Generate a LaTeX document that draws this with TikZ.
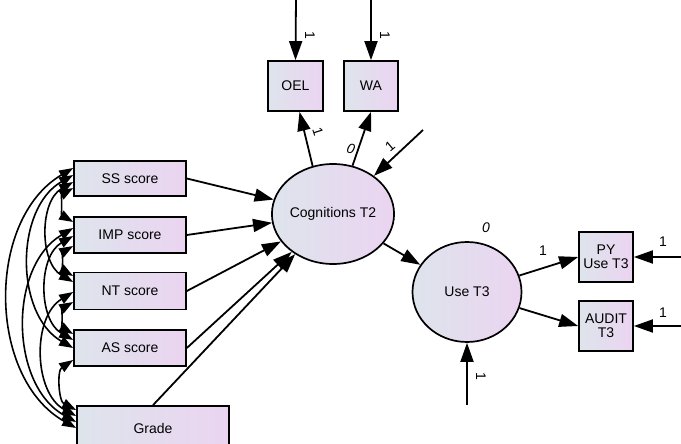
\documentclass[tikz,border=0pt]{standalone}
\usepackage{fontspec}
\setmainfont{Liberation Sans}
\usetikzlibrary{arrows.meta,shapes.geometric}
\definecolor{cA}{RGB}{222,228,236}
\definecolor{cB}{RGB}{235,212,241}
\tikzset{
  obs/.style={draw=black,line width=1.7pt,left color=cA,right color=cB,inner sep=0pt,
    font=\fontsize{14}{14.5}\selectfont,align=center},
  lat/.style={draw=black,line width=1.7pt,ellipse,left color=cA,right color=cB,inner sep=0pt,
    minimum width=109pt,minimum height=100pt,font=\fontsize{14}{15}\selectfont},
  pth/.style={line width=1.8pt,-{Triangle[length=19pt,width=13pt]}},
  covar/.style={line width=1.6pt,{Triangle[length=14pt,width=10pt]}-{Triangle[length=14pt,width=10pt]},bend right=60},
  lbl/.style={font=\fontsize{14}{15}\selectfont,inner sep=0pt},
  ilbl/.style={font=\fontsize{14}{15}\selectfont\itshape,inner sep=0pt}
}
\begin{document}
\begin{tikzpicture}[x=1pt,y=-1pt]
\clip (0,0) rectangle (681,444);
\fill[white] (0,0) rectangle (681,444);
% observed boxes
\node[obs,minimum width=112pt,minimum height=35pt] (ss) at (130,178.5) {SS score};
\node[obs,minimum width=112pt,minimum height=36pt] (imp) at (130,235) {IMP score};
\node[obs,minimum width=112pt,minimum height=37pt] (nt) at (130,291) {NT score};
\node[obs,minimum width=112pt,minimum height=36pt] (as) at (130,348) {AS score};
\node[obs,minimum width=152pt,minimum height=44pt] (grade) at (153,428) {Grade};
\node[obs,minimum width=55pt,minimum height=50pt] (oel) at (295.5,86) {OEL};
\node[obs,minimum width=54pt,minimum height=50pt] (wa) at (371,86) {WA};
\node[obs,minimum width=54pt,minimum height=50pt] (py) at (606,257) {PY\\Use T3};
\node[obs,minimum width=54pt,minimum height=50pt] (aud) at (606,326) {AUDIT\\T3};
% latent
\node[lat] (cog) at (333,214) {Cognitions T2};
\node[lat] (use) at (467,292) {Use T3};
% error ends
\coordinate (eoel) at (296,-2);
\coordinate (ewa) at (371,-2);
\coordinate (ecog) at (423,130);
\coordinate (euse) at (467,405);
\coordinate (epy) at (683,257);
\coordinate (eaud) at (683,326);
% paths
\draw[pth] (ss.east) -- (cog);
\draw[pth] (imp.east) -- (cog);
\draw[pth] (nt.east) -- (cog);
\draw[pth] (as.east) -- (cog);
\draw[pth] (grade.north) -- (cog);
\draw[pth] (cog.113) -- ([xshift=4pt]oel.south);
\draw[pth] (cog.68) -- (wa.south);
\draw[pth] (cog) -- (use);
\draw[pth] (use) -- (py.west);
\draw[pth] (use) -- (aud.west);
\draw[pth] (eoel) -- (oel.north);
\draw[pth] (ewa) -- (wa.north);
\draw[pth] (ecog) -- (cog);
\draw[pth] (euse) -- (use.south);
\draw[pth] (epy) -- (py.east);
\draw[pth] (eaud) -- (aud.east);
% covariances
\draw[covar] (ss.west |- 0,188) to (imp.west |- 0,222);
\draw[covar] (imp.west |- 0,246) to (nt.west |- 0,276);
\draw[covar] (nt.west |- 0,302) to (as.west |- 0,334);
\draw[covar] (as.west |- 0,360) to (grade.west |- 0,410);
\draw[covar] (ss.west |- 0,182) to (nt.west |- 0,282);
\draw[covar] (imp.west |- 0,236) to (as.west |- 0,340);
\draw[covar] (nt.west |- 0,292) to (grade.west |- 0,416);
\draw[covar] (ss.west |- 0,175) to (as.west |- 0,348);
\draw[covar] (imp.west |- 0,228) to (grade.west |- 0,422);
\draw[covar] (ss.west |- 0,168) to (grade.west |- 0,428);
% labels
\node[lbl,rotate=-90] (l1) at (310,35) {1};
\node[lbl,rotate=-90] (l2) at (385,35) {1};
\node[lbl,rotate=-72] (l3) at (318,132) {1};
\node[ilbl,rotate=-15] (l4) at (351,149) {0};
\node[lbl,rotate=40] (l5) at (390,146) {1};
\node[ilbl] (l6) at (486,228) {0};
\node[lbl] (l7) at (543,251) {1};
\node[lbl] (l8) at (663,242) {1};
\node[lbl] (l9) at (663,313) {1};
\node[lbl,rotate=-90] (l10) at (481,376) {1};
\end{tikzpicture}
\end{document}
